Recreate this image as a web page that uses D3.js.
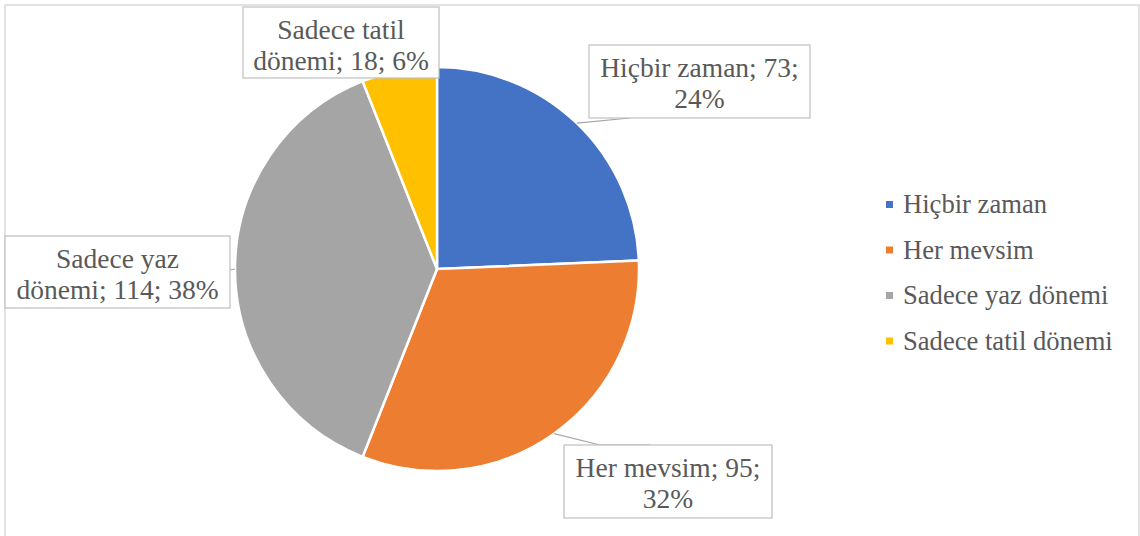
<!DOCTYPE html>
<html>
<head>
<meta charset="utf-8">
<script src="https://cdn.jsdelivr.net/npm/d3@7"></script>
<style>
  body { margin: 0; background: #fff; }
</style>
</head>
<body>
<svg width="1140" height="536"></svg>
<script>
// data
const categories = ["Hiçbir zaman", "Her mevsim", "Sadece yaz dönemi", "Sadece tatil dönemi"];
const values = [73, 95, 114, 18];
const percents = ["24%", "32%", "38%", "6%"];
const labelLines = [
  ["Hiçbir zaman; 73;", "24%"],
  ["Her mevsim; 95;", "32%"],
  ["Sadece yaz", "dönemi; 114; 38%"],
  ["Sadece tatil", "dönemi; 18; 6%"]
];
const colors = ["#4472C4", "#ED7D31", "#A5A5A5", "#FFC000"];

// label box placement (x, y, w, h) and where the leader meets the box
const labelBoxes = [
  {x: 589, y: 45, w: 221, h: 73, lx: 630, ly: 118},
  {x: 564, y: 445, w: 208, h: 73, lx: 600, ly: 445, lx2: 650},
  {x: 5, y: 236, w: 225, h: 72, lx: 230, ly: 270},
  {x: 243, y: 7, w: 196, h: 71, lx: null}
];

const fontFam = "'Liberation Serif', 'Times New Roman', Times, serif";

const svg = d3.select("svg");
const cx = 437, cy = 269, r = 202;

// chart area border
svg.append("rect")
  .attr("x", 5).attr("y", 5)
  .attr("width", 1134).attr("height", 540)
  .attr("fill", "#fff")
  .attr("stroke", "#d9d9d9")
  .attr("stroke-width", 1.5);

const pie = d3.pie().sort(null).value(d => d)(values);
const arc = d3.arc().innerRadius(0).outerRadius(r);

const g = svg.append("g").attr("transform", "translate(" + cx + "," + cy + ")");

g.selectAll("path")
  .data(pie)
  .enter()
  .append("path")
  .attr("d", arc)
  .attr("fill", (d, i) => colors[i])
  .attr("stroke", "#fff")
  .attr("stroke-width", 2.5)
  .attr("stroke-linejoin", "round");

// leader lines
pie.forEach((d, i) => {
  const b = labelBoxes[i];
  if (b.lx == null) return;
  const mid = (d.startAngle + d.endAngle) / 2;
  const px = cx + r * Math.sin(mid);
  const py = cy - r * Math.cos(mid);
  let pts = [[px, py], [b.lx, b.ly]];
  if (b.lx2) pts.push([b.lx2, b.ly]);
  svg.append("path")
    .attr("d", d3.line()(pts))
    .attr("fill", "none")
    .attr("stroke", "#a6a6a6")
    .attr("stroke-width", 1.2);
});

// data label boxes
labelBoxes.forEach((b, i) => {
  svg.append("rect")
    .attr("x", b.x).attr("y", b.y)
    .attr("width", b.w).attr("height", b.h)
    .attr("fill", "#fff")
    .attr("stroke", "#bfbfbf")
    .attr("stroke-width", 1.2);
  const t = svg.append("text")
    .attr("text-anchor", "middle")
    .attr("font-family", fontFam)
    .attr("fill", "#595959")
    .attr("font-size", 27.5);
  labelLines[i].forEach((line, j) => {
    t.append("tspan")
      .attr("x", b.x + b.w / 2)
      .attr("y", b.y + 32 + j * 31)
      .text(line);
  });
});

// legend
const legend = svg.append("g").attr("transform", "translate(886,205)");
categories.forEach((c, i) => {
  const row = legend.append("g").attr("transform", "translate(0," + (i * 45.5) + ")");
  row.append("rect")
    .attr("x", 0).attr("y", -4)
    .attr("width", 7).attr("height", 7)
    .attr("fill", colors[i]);
  row.append("text")
    .attr("x", 17).attr("y", 8)
    .attr("font-family", fontFam)
    .attr("fill", "#595959")
    .attr("font-size", 26.6)
    .text(c);
});
</script>
</body>
</html>
